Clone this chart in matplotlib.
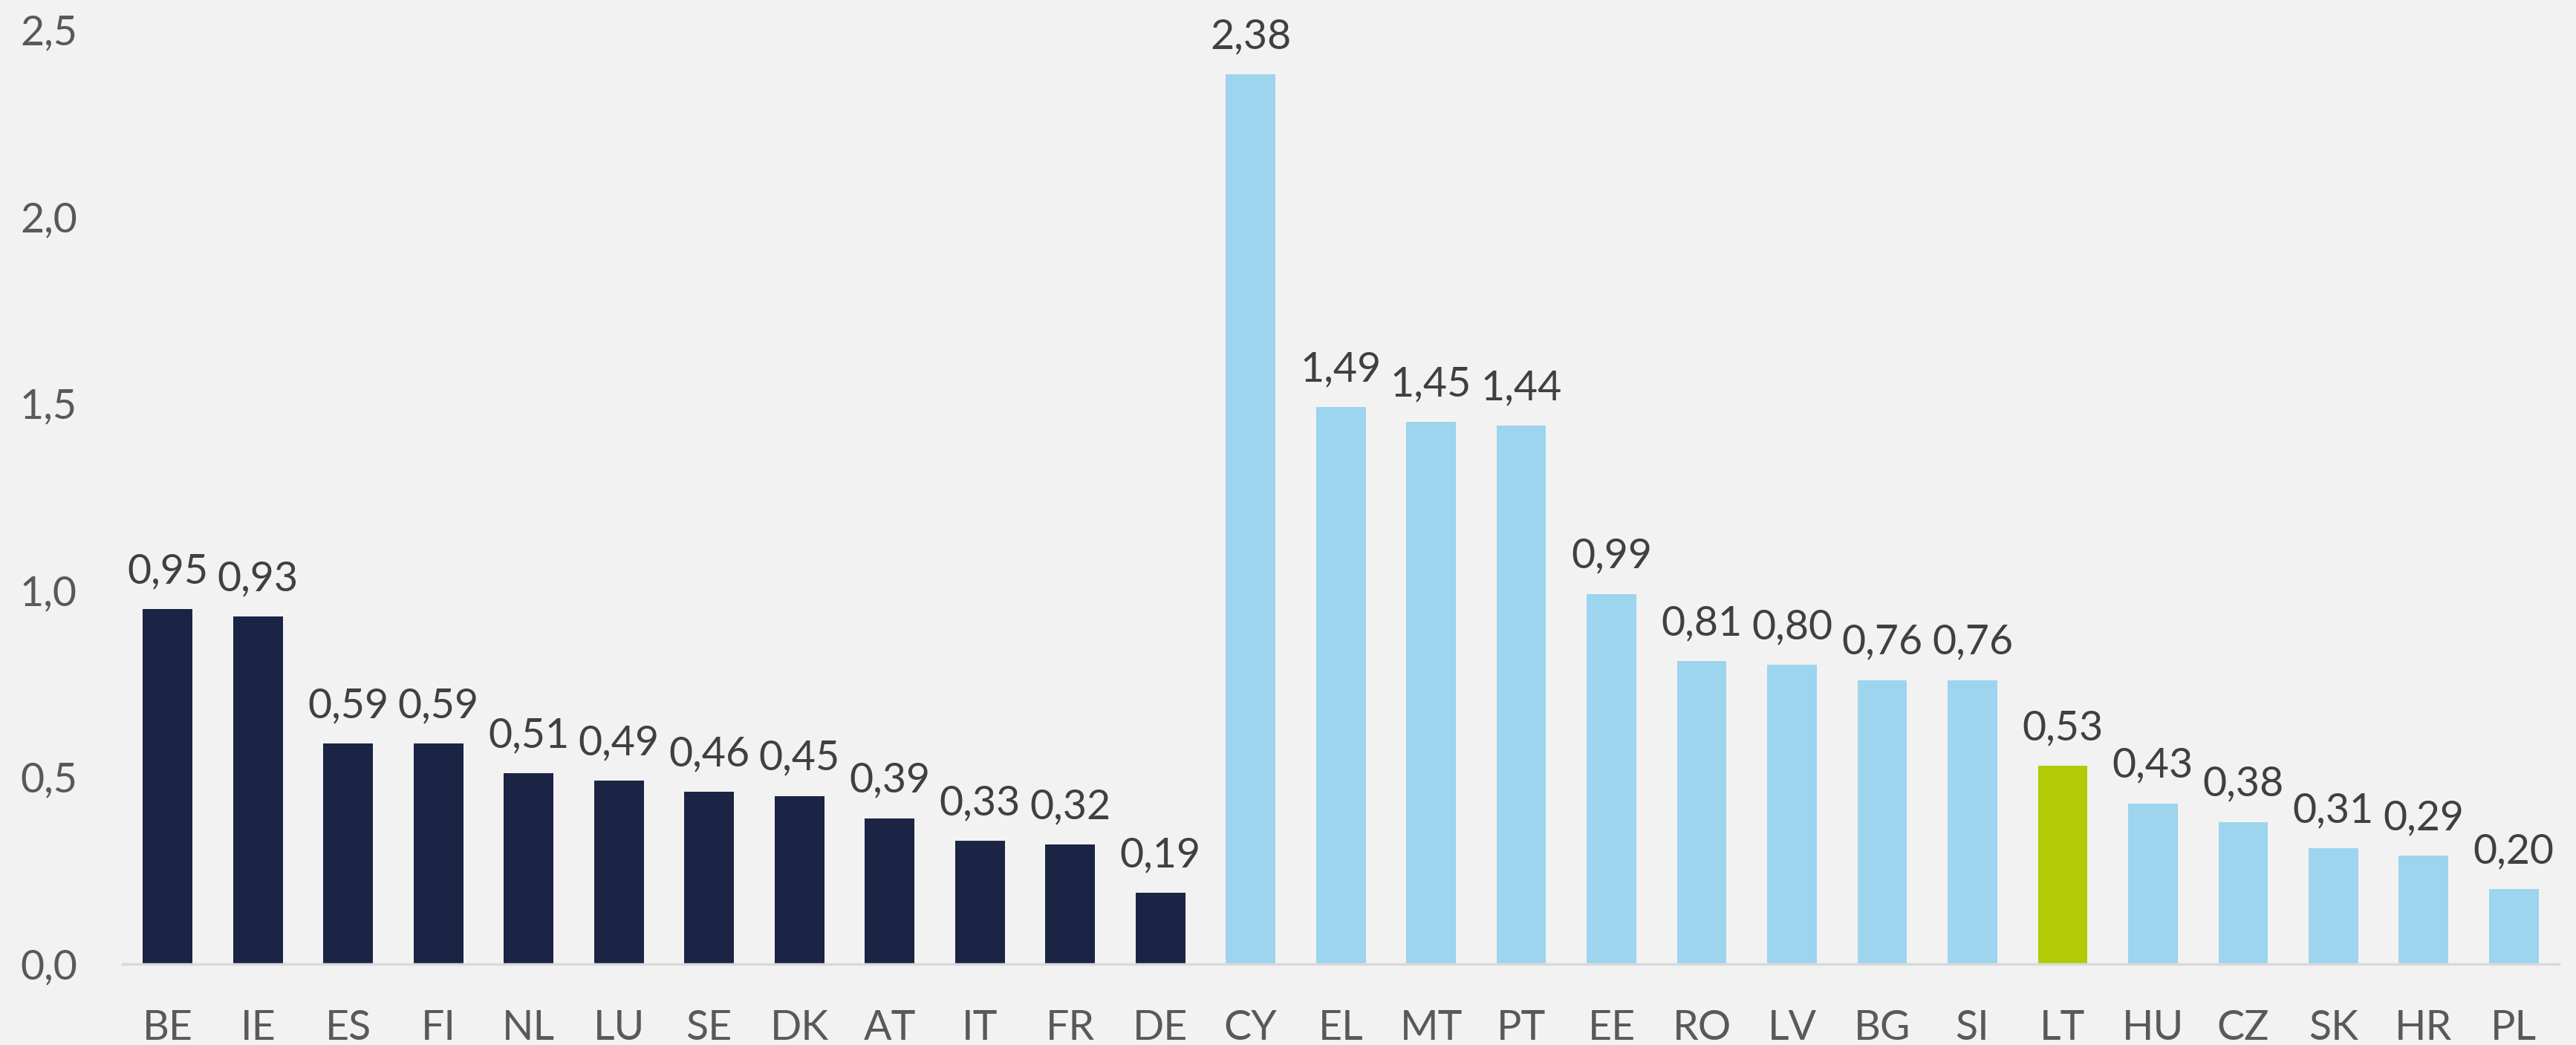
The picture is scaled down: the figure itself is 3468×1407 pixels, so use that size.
import numpy as np
import matplotlib.pyplot as plt

countries = ['BE', 'IE', 'ES', 'FI', 'NL', 'LU', 'SE', 'DK', 'AT', 'IT', 'FR', 'DE',
             'CY', 'EL', 'MT', 'PT', 'EE', 'RO', 'LV', 'BG', 'SI', 'LT', 'HU', 'CZ',
             'SK', 'HR', 'PL']
values = [0.95, 0.93, 0.59, 0.59, 0.51, 0.49, 0.46, 0.45, 0.39, 0.33, 0.32, 0.19,
          2.38, 1.49, 1.45, 1.44, 0.99, 0.81, 0.80, 0.76, 0.76, 0.53, 0.43, 0.38,
          0.31, 0.29, 0.20]
groups = ['old'] * 12 + ['new'] * 9 + ['lt'] + ['new'] * 5

palette = {'old': '#1B2444', 'new': '#9DD4EE', 'lt': '#B2CB06'}
bg = '#F2F2F2'

plt.rcParams['font.family'] = ['Lato', 'DejaVu Sans']

fig = plt.figure(figsize=(34.68, 14.07), dpi=100, facecolor=bg)
ax = fig.add_axes([0.0476, 0.0775, 0.9458, 0.8941])
ax.set_facecolor(bg)

x = np.arange(len(countries))
bars = ax.bar(x, values, width=0.55, color=[palette[g] for g in groups], zorder=2)

for xi, v in zip(x, values):
    ax.annotate(f'{v:.2f}'.replace('.', ','), (xi, v), xytext=(0, 18),
                textcoords='offset points', ha='center', va='bottom',
                fontsize=40, color='#404040', clip_on=False)

ax.set_xlim(-0.5, len(countries) - 0.5)
ax.set_ylim(0, 2.5)
ax.set_yticks(np.arange(0, 2.51, 0.5))
ax.set_yticklabels([f'{t:.1f}'.replace('.', ',') for t in np.arange(0, 2.51, 0.5)])
ax.set_xticks(x)
ax.set_xticklabels(countries)
ax.tick_params(axis='both', length=0, labelsize=40, labelcolor='#595959')
ax.tick_params(axis='x', pad=44)
ax.tick_params(axis='y', pad=44)

for s in ['top', 'right', 'left']:
    ax.spines[s].set_visible(False)
ax.spines['bottom'].set_color('#D9D9D9')
ax.spines['bottom'].set_linewidth(2.5)

fig.savefig('out.png', dpi=100, facecolor=bg)
